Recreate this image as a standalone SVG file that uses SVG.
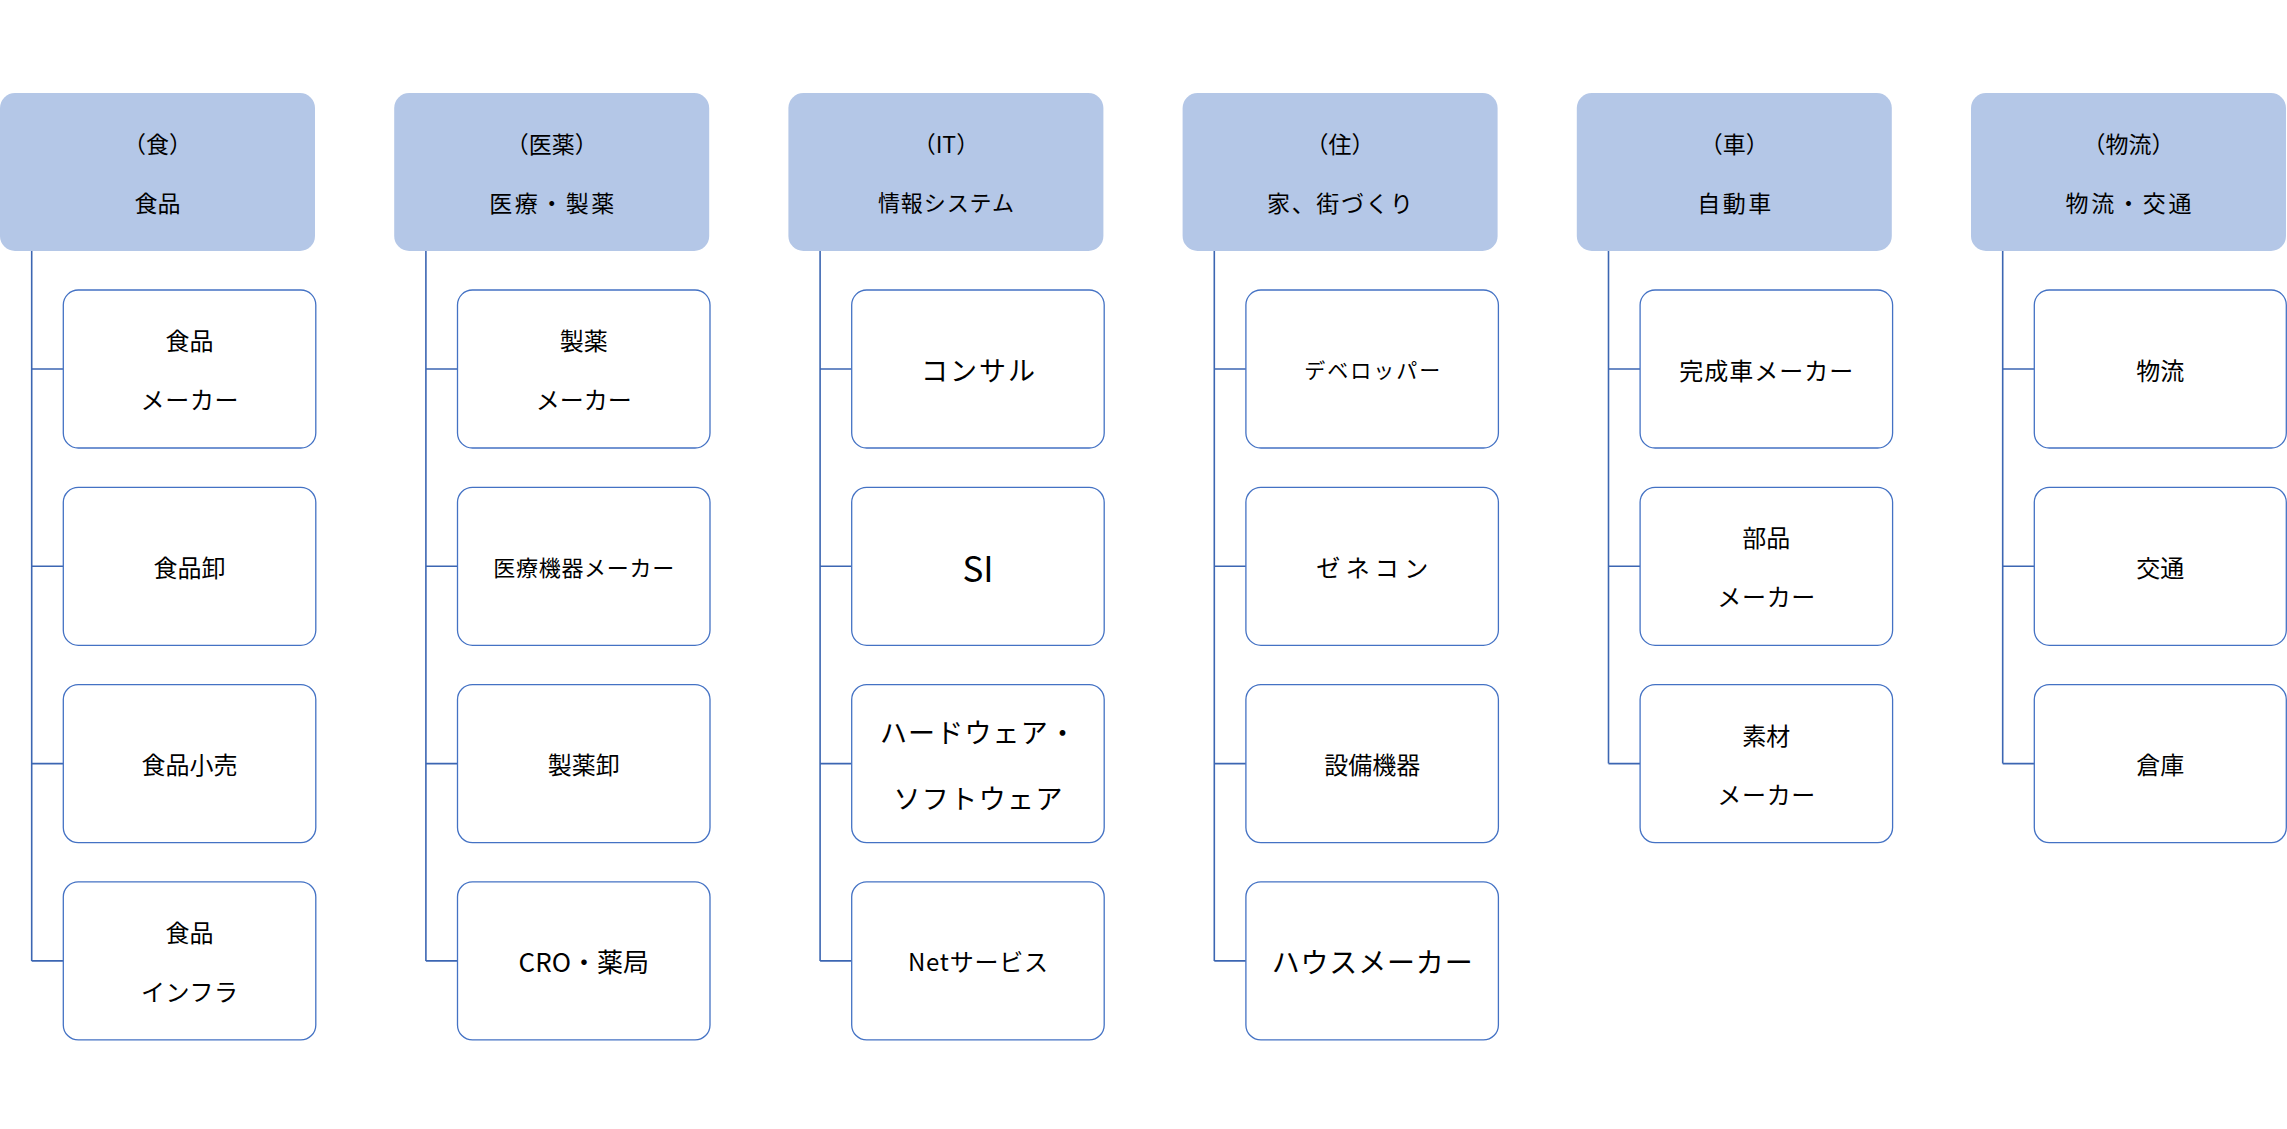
<svg xmlns="http://www.w3.org/2000/svg" width="2287" height="1129" viewBox="0 0 2287 1129">
<style>
.hd{fill:#B4C7E7;stroke:none}
.ch{fill:#FFFFFF;stroke:#4472C4;stroke-width:1.3}
.cn{fill:none;stroke:#3C66B2;stroke-width:1.6}
text{font-family:"Noto Sans CJK JP","Noto Sans",sans-serif;font-size:24px;fill:#000;text-anchor:middle;dominant-baseline:central}
.h{font-size:23px}
</style>
<rect width="2287" height="1129" fill="#FFFFFF"/>
<g id="connectors">
<path class="cn" d="M31.7,251V960.9M31.7,369H63.3M31.7,566.3H63.3M31.7,763.6H63.3M31.7,960.9H63.3"/>
<path class="cn" d="M425.9,251V960.9M425.9,369H457.5M425.9,566.3H457.5M425.9,763.6H457.5M425.9,960.9H457.5"/>
<path class="cn" d="M820.1,251V960.9M820.1,369H851.7M820.1,566.3H851.7M820.1,763.6H851.7M820.1,960.9H851.7"/>
<path class="cn" d="M1214.3,251V960.9M1214.3,369H1245.9M1214.3,566.3H1245.9M1214.3,763.6H1245.9M1214.3,960.9H1245.9"/>
<path class="cn" d="M1608.5,251V763.6M1608.5,369H1640.1M1608.5,566.3H1640.1M1608.5,763.6H1640.1"/>
<path class="cn" d="M2002.7,251V763.6M2002.7,369H2034.3M2002.7,566.3H2034.3M2002.7,763.6H2034.3"/>
</g>
<!-- column 1 -->
<g id="h1" transform="translate(0,93)"><rect class="hd" width="315" height="158" rx="15"/><text class="h" x="157.5" y="50">（食）</text><text class="h" x="157.5" y="108.7">食品</text></g>
<g id="n1a" transform="translate(63.3,290)"><rect class="ch" width="252.5" height="158" rx="15"/><text x="126.25" y="49.5">食品</text><text x="126.25" y="108.5" textLength="98" lengthAdjust="spacing">メーカー</text></g>
<g id="n1b" transform="translate(63.3,487.3)"><rect class="ch" width="252.5" height="158" rx="15"/><text x="126.25" y="79">食品卸</text></g>
<g id="n1c" transform="translate(63.3,684.6)"><rect class="ch" width="252.5" height="158" rx="15"/><text x="126.25" y="79">食品小売</text></g>
<g id="n1d" transform="translate(63.3,881.9)"><rect class="ch" width="252.5" height="158" rx="15"/><text x="126.25" y="49.5">食品</text><text x="126.25" y="108.5" textLength="97" lengthAdjust="spacing">インフラ</text></g>
<!-- column 2 -->
<g id="h2" transform="translate(394.2,93)"><rect class="hd" width="315" height="158" rx="15"/><text class="h" x="157.5" y="50">（医薬）</text><text class="h" x="157.5" y="108.7" textLength="125" lengthAdjust="spacing">医療・製薬</text></g>
<g id="n2a" transform="translate(457.5,290)"><rect class="ch" width="252.5" height="158" rx="15"/><text x="126.25" y="49.5">製薬</text><text x="126.25" y="108.5" textLength="96" lengthAdjust="spacing">メーカー</text></g>
<g id="n2b" transform="translate(457.5,487.3)"><rect class="ch" width="252.5" height="158" rx="15"/><text x="126.25" y="79" style="font-size:22px" textLength="181" lengthAdjust="spacing">医療機器メーカー</text></g>
<g id="n2c" transform="translate(457.5,684.6)"><rect class="ch" width="252.5" height="158" rx="15"/><text x="126.25" y="79">製薬卸</text></g>
<g id="n2d" transform="translate(457.5,881.9)"><rect class="ch" width="252.5" height="158" rx="15"/><text x="126.25" y="79" style="font-size:26px">CRO・薬局</text></g>
<!-- column 3 -->
<g id="h3" transform="translate(788.4,93)"><rect class="hd" width="315" height="158" rx="15"/><text class="h" x="157.5" y="50">（IT）</text><text class="h" x="157.5" y="108" style="font-size:22px" textLength="136" lengthAdjust="spacing">情報システム</text></g>
<g id="n3a" transform="translate(851.7,290)"><rect class="ch" width="252.5" height="158" rx="15"/><text x="126.25" y="79" style="font-size:27px" textLength="114" lengthAdjust="spacing">コンサル</text></g>
<g id="n3b" transform="translate(851.7,487.3)"><rect class="ch" width="252.5" height="158" rx="15"/><text x="126.25" y="79" style="font-size:35px">SI</text></g>
<g id="n3c" transform="translate(851.7,684.6)"><rect class="ch" width="252.5" height="158" rx="15"/><text x="126.25" y="46.5" style="font-size:27px" textLength="196" lengthAdjust="spacing">ハードウェア・</text><text x="126.25" y="113" style="font-size:27px" textLength="169" lengthAdjust="spacing">ソフトウェア</text></g>
<g id="n3d" transform="translate(851.7,881.9)"><rect class="ch" width="252.5" height="158" rx="15"/><text x="126.25" y="79" textLength="140" lengthAdjust="spacing">Netサービス</text></g>
<!-- column 4 -->
<g id="h4" transform="translate(1182.6,93)"><rect class="hd" width="315" height="158" rx="15"/><text class="h" x="157.5" y="50">（住）</text><text class="h" x="157.5" y="108.7" textLength="146" lengthAdjust="spacing">家、街づくり</text></g>
<g id="n4a" transform="translate(1245.9,290)"><rect class="ch" width="252.5" height="158" rx="15"/><text x="126.25" y="79" style="font-size:21px" textLength="136" lengthAdjust="spacing">デベロッパー</text></g>
<g id="n4b" transform="translate(1245.9,487.3)"><rect class="ch" width="252.5" height="158" rx="15"/><text x="126.25" y="79" textLength="112" lengthAdjust="spacing">ゼネコン</text></g>
<g id="n4c" transform="translate(1245.9,684.6)"><rect class="ch" width="252.5" height="158" rx="15"/><text x="126.25" y="79">設備機器</text></g>
<g id="n4d" transform="translate(1245.9,881.9)"><rect class="ch" width="252.5" height="158" rx="15"/><text x="126.25" y="79" style="font-size:28px" textLength="201" lengthAdjust="spacing">ハウスメーカー</text></g>
<!-- column 5 -->
<g id="h5" transform="translate(1576.8,93)"><rect class="hd" width="315" height="158" rx="15"/><text class="h" x="157.5" y="50">（車）</text><text class="h" x="157.5" y="108.7" textLength="74" lengthAdjust="spacing">自動車</text></g>
<g id="n5a" transform="translate(1640.1,290)"><rect class="ch" width="252.5" height="158" rx="15"/><text x="126.25" y="79" textLength="174" lengthAdjust="spacing">完成車メーカー</text></g>
<g id="n5b" transform="translate(1640.1,487.3)"><rect class="ch" width="252.5" height="158" rx="15"/><text x="126.25" y="49.5">部品</text><text x="126.25" y="108.5" textLength="98" lengthAdjust="spacing">メーカー</text></g>
<g id="n5c" transform="translate(1640.1,684.6)"><rect class="ch" width="252.5" height="158" rx="15"/><text x="126.25" y="49.5">素材</text><text x="126.25" y="108.5" textLength="98" lengthAdjust="spacing">メーカー</text></g>
<!-- column 6 -->
<g id="h6" transform="translate(1971,93)"><rect class="hd" width="315" height="158" rx="15"/><text class="h" x="157.5" y="50">（物流）</text><text class="h" x="157.5" y="108.7" textLength="126" lengthAdjust="spacing">物流・交通</text></g>
<g id="n6a" transform="translate(2034.3,290)"><rect class="ch" width="252" height="158" rx="15"/><text x="126" y="79">物流</text></g>
<g id="n6b" transform="translate(2034.3,487.3)"><rect class="ch" width="252" height="158" rx="15"/><text x="126" y="79">交通</text></g>
<g id="n6c" transform="translate(2034.3,684.6)"><rect class="ch" width="252" height="158" rx="15"/><text x="126" y="79">倉庫</text></g>
</svg>
